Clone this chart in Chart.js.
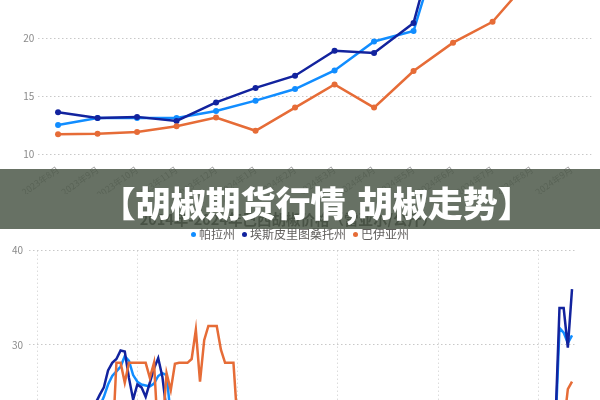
<!DOCTYPE html>
<html>
<head>
<meta charset="utf-8"/>
<title>胡椒期货行情</title>
<script src="https://cdn.jsdelivr.net/npm/chart.js@4.4.1/dist/chart.umd.min.js"></script>
<style>
  html, body { margin: 0; padding: 0; background: #fff; }
  body { width: 600px; height: 400px; overflow: hidden; position: relative; }
  .top-box { position: absolute; left: 0; top: -30px; width: 600px; height: 224px; }
  .bottom-box { position: absolute; left: 0; top: 200px; width: 600px; height: 440px; }
  .legend {
    position: absolute; left: 0; top: 226px; width: 600px; height: 16px;
    display: flex; justify-content: center; align-items: center;
    font-family: "Noto Sans CJK SC", sans-serif; font-size: 12px; line-height: 16px; color: #605E5C;
  }
  .legend .item { display: flex; align-items: center; margin: 0 3.5px; }
  .legend .dot { width: 5px; height: 5px; border-radius: 50%; margin-right: 3px; }
  .banner {
    position: absolute; left: 0; top: 169px; width: 600px; height: 60px;
    background: rgba(78, 90, 74, 0.86); z-index: 5;
  }
  .banner span {
    position: absolute; left: 100.5px; top: 0; line-height: 60px; padding-top: 3px;
    color: #fff; font-family: "Noto Sans CJK SC", sans-serif; font-weight: 900; font-size: 35px;
    white-space: nowrap;
  }
</style>
</head>
<body>
<div class="top-box"><canvas id="recent"></canvas></div>
<div class="bottom-box"><canvas id="history"></canvas></div>
<div class="legend" id="legend"></div>
<div class="banner"><span>【胡椒期货行情,胡椒走势】</span></div>

<script>
// top chart: 2023-08 .. 2024-09, 雷亚尔/公斤
const topMonths = ['2023年8月', '2023年9月', '2023年10月', '2023年11月', '2023年12月', '2024年1月', '2024年2月',
                   '2024年3月', '2024年4月', '2024年5月', '2024年6月', '2024年7月', '2024年8月', '2024年9月'];
const topPara     = [12.5, 13.1, 13.1, 13.1, 13.7, 14.6, 15.6, 17.2, 19.7, 20.6, 31.8, 31.3, 30.2, 31.0];
const topEspirito = [13.6, 13.1, 13.2, 12.85, 14.45, 15.7, 16.75, 18.9, 18.7, 21.3, 33.9, 33.9, 29.7, 35.9];
const topBahia    = [11.7, 11.75, 11.9, 12.4, 13.15, 12.0, 14.0, 16.0, 14.0, 17.15, 19.6, 21.4, 25.3, 26.1];

// bottom chart: monthly 2014-01 .. 2024-09 (axis runs to 2024-10)
const histYears = [2014, 2015, 2016, 2017, 2018, 2019, 2020, 2021, 2022, 2023, 2024];
const histPara = [
  16.8, 17.2, 17.5, 17.6, 18.0, 18.4, 19.0, 19.6, 20.1, 20.5, 21.0, 21.2,
  21.5, 22.0, 22.6, 23.5, 24.5, 25.8, 26.7, 27.2, 27.7, 28.8, 28.3, 26.8,
  26.1, 25.8, 25.7, 25.6, 25.9, 26.7, 27.0, 26.8, 22.5, 20.8, 19.0, 17.6,
  16.4, 15.6, 14.3, 13.6, 13.0, 12.4, 12.1, 11.4, 11.0, 10.6, 10.1, 9.9,
  9.6, 9.1, 8.9, 8.8, 8.4, 8.1, 7.9, 7.7, 7.6, 7.3, 7.2, 7.4,
  7.4, 7.6, 7.3, 7.1, 6.9, 7.0, 7.1, 7.3, 7.1, 7.0, 7.2, 7.5,
  7.7, 7.9, 8.2, 8.6, 9.2, 9.8, 10.3, 11.4, 12.3, 13.1, 14.3, 15.1,
  16.3, 17.1, 17.9, 18.4, 18.9, 18.7, 18.2, 17.9, 17.2, 16.9, 16.2, 15.8,
  15.2, 14.9, 14.2, 13.9, 13.2, 12.9, 12.4, 12.2, 11.9, 11.8, 11.9, 12.1,
  12.0, 12.2, 12.1, 12.3, 12.2, 12.4, 12.3, 12.5, 13.1, 13.1, 13.1, 13.7,
  14.6, 15.6, 17.2, 19.7, 20.6, 31.8, 31.3, 30.2, 31.0
];
const histEspirito = [
  17.5, 17.8, 18.1, 18.2, 18.6, 19.0, 19.4, 20.0, 20.4, 21.0, 21.2, 21.5,
  22.0, 22.8, 23.8, 24.7, 25.5, 27.3, 28.1, 28.5, 29.4, 29.3, 26.5, 24.2,
  25.8, 25.5, 24.5, 26.0, 27.5, 28.6, 26.6, 23.0, 21.0, 19.5, 18.1, 17.0,
  16.1, 15.0, 14.2, 13.1, 12.6, 12.0, 11.6, 11.0, 10.4, 10.1, 9.8, 9.5,
  9.3, 9.0, 8.7, 8.6, 8.2, 8.0, 7.8, 7.6, 7.3, 7.1, 7.0, 7.2,
  7.3, 7.5, 7.2, 7.0, 6.8, 6.9, 7.0, 7.2, 7.0, 6.9, 7.1, 7.3,
  7.5, 7.8, 8.1, 8.5, 9.1, 9.5, 10.1, 11.0, 12.1, 12.9, 14.0, 15.1,
  16.0, 17.1, 18.0, 18.6, 19.0, 19.1, 18.5, 18.1, 17.5, 17.0, 16.6, 16.0,
  15.6, 15.0, 14.6, 14.0, 13.5, 13.1, 12.6, 12.5, 12.0, 12.1, 12.2, 12.5,
  12.8, 13.0, 13.2, 13.0, 12.8, 13.2, 13.5, 13.6, 13.1, 13.2, 12.85, 14.45,
  15.7, 16.75, 18.9, 18.7, 21.3, 33.9, 33.9, 29.7, 35.9
];
const histBahia = [
  15.0, 15.3, 15.4, 15.8, 16.1, 16.2, 16.6, 16.9, 17.0, 17.4, 17.5, 17.9,
  18.0, 18.3, 18.4, 18.8, 19.0, 19.1, 19.0, 28.1, 28.1, 26.0, 28.1, 28.1,
  28.1, 28.1, 28.1, 26.5, 28.1, 20.0, 21.0, 27.0, 25.2, 28.0, 28.1, 28.1,
  28.1, 28.5, 31.6, 26.1, 30.5, 32.0, 32.0, 32.0, 29.5, 28.1, 28.1, 28.1,
  21.5, 18.6, 16.8, 15.1, 13.2, 12.0, 11.1, 10.2, 9.6, 9.0, 8.6, 8.4,
  8.0, 8.2, 8.0, 7.8, 7.5, 7.6, 7.8, 8.0, 7.8, 7.6, 7.8, 8.1,
  8.2, 8.5, 8.9, 9.2, 9.8, 10.3, 10.8, 11.8, 12.7, 13.8, 14.7, 15.8,
  16.5, 17.4, 18.2, 18.5, 18.8, 18.4, 18.0, 17.6, 17.0, 16.4, 16.0, 15.5,
  15.0, 14.6, 14.0, 13.4, 13.0, 12.6, 12.0, 11.8, 11.5, 11.3, 11.2, 11.3,
  11.3, 11.4, 11.5, 11.5, 11.6, 11.6, 11.7, 11.7, 11.75, 11.9, 12.4, 13.15,
  12.0, 14.0, 16.0, 14.0, 17.15, 19.6, 21.4, 25.3, 26.1
];

const seriesNames = ['帕拉州', '埃斯皮里图桑托州', '巴伊亚州'];
const seriesColors = ['#118DFF', '#12239E', '#E66C37'];

Chart.defaults.font.family = '"Noto Sans CJK SC", "Noto Sans", sans-serif';
Chart.defaults.animation = false;

const histLabels = [];
histYears.forEach(y => {
  for (let m = 1; m <= 12; m++) {
    if (y === 2024 && m > 10) break;
    histLabels.push(y + '年' + m + '月');
  }
});

const dots = [1.5, 2.5];

function lineSet(k, data, pts) {
  return {
    label: seriesNames[k], data: data, borderColor: seriesColors[k], backgroundColor: seriesColors[k],
    borderWidth: 2.5, tension: 0,
    pointRadius: pts ? 3 : 0, pointHoverRadius: pts ? 3 : 0, pointBorderWidth: 0
  };
}

// draw order like the original: 巴伊亚州 on top, 帕拉州 at the bottom
new Chart(document.getElementById('recent'), {
  type: 'line',
  data: {
    labels: topMonths,
    datasets: [lineSet(2, topBahia, true), lineSet(1, topEspirito, true), lineSet(0, topPara, true)]
  },
  options: {
    responsive: true, maintainAspectRatio: false,
    layout: { padding: { top: 8.5, left: 0, right: 8.7, bottom: 0 } },
    plugins: { legend: { display: false }, tooltip: { enabled: false } },
    scales: {
      x: {
        offset: true,
        grid: { display: false },
        border: { display: false },
        ticks: { autoSkip: false, minRotation: 35, maxRotation: 35, color: '#9a9a9a', font: { size: 9 }, padding: 2 },
        afterFit: s => { s.height = 40; }
      },
      y: {
        min: 10, max: 25,
        ticks: { stepSize: 5, color: '#8a8a8a', font: { size: 10 }, padding: 4 },
        grid: { color: '#c8c8c8', drawTicks: false },
        border: { display: false, dash: dots },
        afterFit: s => { s.width = 38.3; }
      }
    }
  }
});

new Chart(document.getElementById('history'), {
  type: 'line',
  data: {
    labels: histLabels,
    datasets: [lineSet(2, histBahia, false), lineSet(1, histEspirito, false), lineSet(0, histPara, false)]
  },
  options: {
    responsive: true, maintainAspectRatio: false,
    layout: { padding: { top: 10.3, left: 0, right: 23.8, bottom: 0 } },
    plugins: {
      tooltip: { enabled: false },
      legend: { display: false },
      title: {
        display: true,
        text: '2014年-2024年巴西胡椒价格（雷亚尔/公斤）',
        color: '#252423',
        font: { size: 14.5, weight: 'bold' },
        padding: { top: 0, bottom: 22.8 }
      }
    },
    scales: {
      x: {
        ticks: { display: false, autoSkip: false },
        grid: {
          drawTicks: false,
          color: c => (c.index % 24 === 0 ? '#dcdcdc' : 'rgba(0,0,0,0)')
        },
        border: { display: false, dash: dots }
      },
      y: {
        min: 0, max: 40,
        ticks: { stepSize: 10, color: '#8a8a8a', font: { size: 10 }, padding: 6 },
        grid: { color: '#c8c8c8', drawTicks: true, tickLength: 8, tickColor: '#c8c8c8', tickBorderDash: dots },
        border: { display: false, dash: dots },
        afterFit: s => { s.width = 37; }
      }
    }
  }
});

// legend of the history chart, same order and colours as the series
const legendBox = document.getElementById('legend');
seriesNames.forEach((name, k) => {
  const item = document.createElement('span');
  item.className = 'item';
  item.innerHTML = '<span class="dot" style="background:' + seriesColors[k] + '"></span>' + name;
  legendBox.appendChild(item);
});
</script>
</body>
</html>
